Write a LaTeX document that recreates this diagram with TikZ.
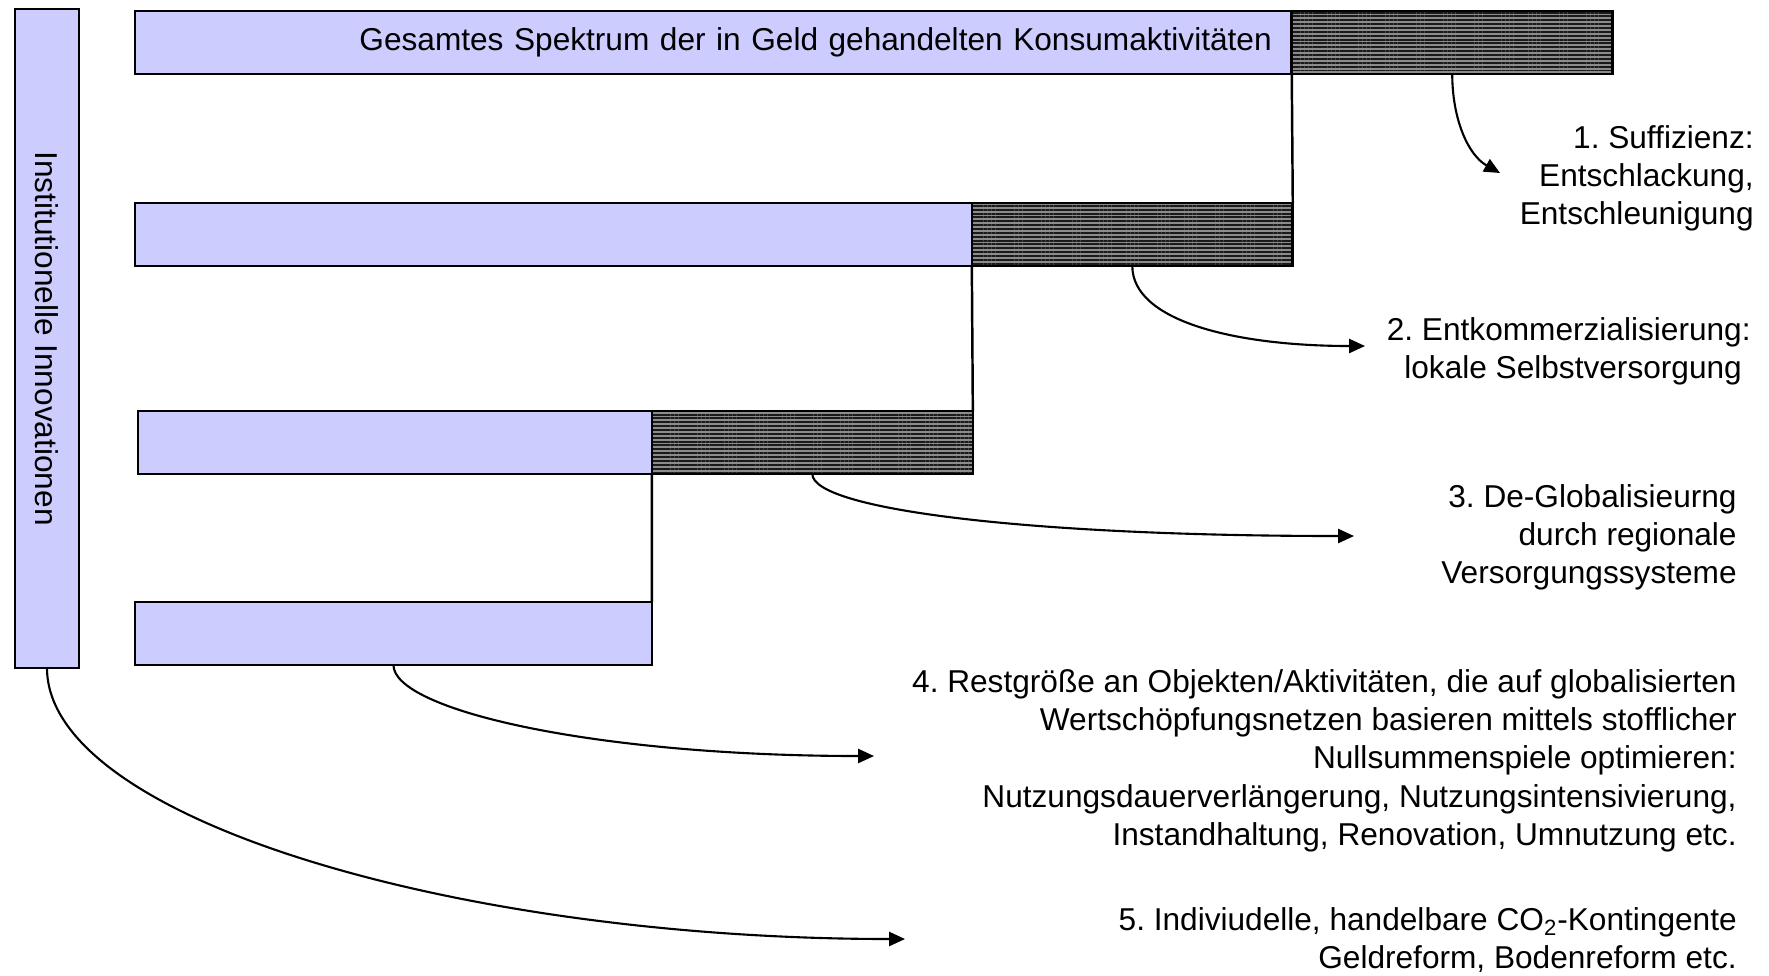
\documentclass[tikz,border=0pt]{standalone}
\usepackage{fontspec}
\setmainfont{Liberation Sans}
\usepackage{tikz}
\usetikzlibrary{arrows.meta,positioning,patterns.meta}
\definecolor{lilac}{HTML}{CCCCFF}
\definecolor{ink}{HTML}{1A1A1A}
\frenchspacing

\begin{document}
\begin{tikzpicture}[x=0.02cm,y=-0.02cm,>={Triangle[length=9pt,width=8pt]},
  bar/.style={draw=black,line width=1.5pt,fill=lilac,anchor=north west,inner sep=0pt,outer sep=0pt,minimum height=1.26cm},
  hatch/.style={draw=black,line width=1.5pt,preaction={fill=black!45},pattern={Lines[angle=0,distance=2.2pt,line width=1.1pt]},pattern color=ink,inner sep=0pt,outer sep=0pt,minimum height=1.26cm,minimum width=6.42cm,right=0pt of #1},
  lab/.style={anchor=north east,align=right,inner sep=0pt,font=\fontsize{18}{21.8}\selectfont},
  conn/.style={line width=1.4pt}]
\useasboundingbox (0,0) rectangle (1769,975);
\node[bar,anchor=center,rotate=-90,minimum width=13.18cm,minimum height=1.28cm,font=\fontsize{18}{21.8}\selectfont] (inst) at (47,338.5) {Institutionelle Innovationen};
\node[bar,text width=22.34cm,align=right,inner xsep=0.4cm,font=\fontsize{18}{21.8}\selectfont] (b1) at (135,11) {Gesamtes Spektrum der in Geld gehandelten Konsumaktivitäten};
\node[hatch=b1] (h1) {};
\node[bar,minimum width=16.74cm] (b2) at (135,203) {};
\node[hatch=b2] (h2) {};
\node[bar,minimum width=10.28cm] (b3) at (138,411) {};
\node[hatch=b3] (h3) {};
\node[bar,minimum width=10.34cm] (b4) at (135,602) {};
\draw[conn] (h1.south west) -- (h2.north east);
\draw[conn] (h2.south west) -- (h3.north east);
\draw[conn] (h3.south west) -- (b4.north east);
% labels on the right
\node[lab] (l1) at (1754,125) {1. Suffizienz:\\Entschlackung,\\Entschleunigung};
\node[lab] (l2) at (1751,317) {2. Entkommerzialisierung:\\lokale Selbstversorgung\kern5pt};
\node[lab] (l3) at (1737,484) {3. De-Globalisieurng\\durch regionale\\Versorgungssysteme};
\node[lab] (l4) at (1737,669) {4. Restgröße an Objekten/Aktivitäten, die auf globalisierten\\Wertschöpfungsnetzen basieren mittels stofflicher\\Nullsummenspiele optimieren:\\Nutzungsdauerverlängerung, Nutzungsintensivierung,\\Instandhaltung, Renovation, Umnutzung etc.};
\node[lab] (l5) at (1737,907) {5. Indiviudelle, handelbare CO\textsubscript{2}-Kontingente\\Geldreform, Bodenreform etc.};
\coordinate (e1) at (1500,173);
\coordinate (e2) at (1365,346);
\coordinate (e3) at (1354,536);
\coordinate (e4) at (874,756);
\coordinate (e5) at (905,939);
\draw[line width=1.2pt,->] (h1.south) .. controls +(0,45) and +(-32,-18) .. (e1);
\draw[line width=1.2pt,->] (h2.south) .. controls +(0,55) and +(-130,0) .. (e2);
\draw[line width=1.2pt,->] (h3.south) .. controls +(0,35) and +(-330,0) .. (e3);
\draw[line width=1.2pt,->] (b4.south) .. controls +(0,45) and +(-280,0) .. (e4);
\draw[line width=1.2pt,->] (inst.east) .. controls +(0,150) and +(-450,0) .. (e5);
\end{tikzpicture}
\end{document}
